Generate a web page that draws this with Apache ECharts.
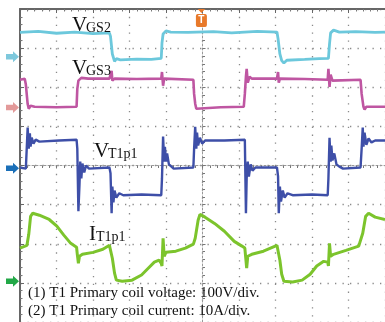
<!DOCTYPE html>
<html><head><meta charset="utf-8">
<script src="https://cdn.jsdelivr.net/npm/echarts@6/dist/echarts.min.js"></script>
<style>html,body{margin:0;padding:0;background:#fff}#c{width:385px;height:322px}</style>
</head><body><div id="c"></div>
<script>
// Time axis and amplitude axis in oscilloscope divisions
const xRange = [-5, 5];
const yRange = [-4, 4];
// Channel reference levels (arrows at left), in divisions
const refLevels = [2.78, 1.48, -0.07, -2.96];
const triggerT = -0.03;

const vgs2 = [[-5.00,3.40],[-4.5,3.43],[-4.0,3.38],[-3.5,3.41],[-3.0,3.37],[-2.55,3.39],
[-2.52,3.30],[-2.47,2.85],[-2.41,2.66],[-2.36,2.73],[-2.25,2.70],[-1.8,2.72],[-1.4,2.71],[-1.13,2.74],
[-1.11,3.13],[-1.08,3.36],[-1.00,3.44],[-0.87,3.41],[-0.4,3.40],[0.3,3.42],[0.8,3.39],[1.5,3.43],[2.04,3.41],
[2.07,3.24],[2.12,2.85],[2.17,2.68],[2.23,2.62],[2.31,2.69],[2.8,2.71],[3.2,2.73],[3.45,2.74],
[3.48,3.11],[3.51,3.39],[3.59,3.46],[3.75,3.41],[4.2,3.42],[4.73,3.40],[5.0,3.41]];

const vgs3 = [[-5.00,2.19],[-4.87,2.22],[-4.84,2.07],[-4.79,1.57],[-4.76,1.45],[-4.71,1.53],[-4.60,1.50],[-4.0,1.49],
[-3.45,1.50],[-3.43,1.96],[-3.40,2.17],[-3.32,2.24],[-3.13,2.22],[-2.55,2.22],[-2.52,2.22],[-2.49,2.42],[-2.47,2.17],
[-2.41,2.22],[-1.8,2.21],[-1.13,2.22],[-1.11,2.39],[-1.08,2.04],[-1.05,2.22],[-0.25,2.19],[-0.23,1.83],[-0.20,1.58],
[-0.17,1.45],[-0.12,1.50],[0.5,1.49],[1.13,1.50],[1.16,1.83],[1.19,2.27],[1.21,2.47],[1.24,2.12],[1.29,2.27],[1.35,2.22],
[2.04,2.22],[2.07,2.39],[2.09,2.12],[2.12,2.22],[2.8,2.21],[3.43,2.19],[3.45,2.47],[3.48,2.01],[3.51,2.32],[3.56,2.17],
[3.61,2.22],[4.33,2.19],[4.36,1.83],[4.41,1.50],[4.44,1.43],[4.49,1.50],[4.73,1.50],[5.0,1.50]];

const vt1p1 = [[-5,-0.05],[-4.84,-0.08],[-4.81,-0.05],[-4.79,0.97],[-4.76,0.43],[-4.73,0.82],[-4.71,0.48],[-4.68,0.71],
[-4.63,0.56],[-4.57,0.66],[-4.47,0.61],[-3.93,0.64],[-3.45,0.66],[-3.43,0.43],[-3.40,-1.17],[-3.37,-0.48],[-3.35,0.10],
[-3.32,-0.33],[-3.29,0.05],[-3.24,-0.18],[-3.19,0.0],[-3.11,-0.08],[-2.55,-0.05],[-2.52,-0.20],[-2.49,-1.22],[-2.47,-0.54],
[-2.44,-0.94],[-2.41,-0.64],[-2.36,-0.82],[-2.28,-0.71],[-2.17,-0.76],[-1.67,-0.74],[-1.13,-0.76],[-1.11,-0.33],[-1.08,0.74],
[-1.05,0.10],[-1.03,0.48],[-1.00,0.10],[-0.97,0.31],[-0.92,0.03],[-0.87,0.05],[-0.79,-0.08],[-0.25,-0.05],[-0.23,0.43],
[-0.20,0.99],[-0.17,0.43],[-0.15,0.84],[-0.12,0.51],[-0.07,0.71],[-0.01,0.56],[0.07,0.64],[0.60,0.64],[1.16,0.66],
[1.19,-1.22],[1.21,-0.33],[1.24,0.10],[1.27,-0.28],[1.32,0.03],[1.37,-0.13],[1.45,-0.05],[2.04,-0.05],[2.07,-0.28],
[2.09,-1.22],[2.12,-0.54],[2.15,-0.92],[2.20,-0.64],[2.25,-0.82],[2.33,-0.71],[2.47,-0.76],[3.0,-0.74],[3.43,-0.76],
[3.45,-0.33],[3.48,0.71],[3.51,0.10],[3.53,0.51],[3.56,0.13],[3.61,0.31],[3.67,0.03],[3.75,-0.03],[3.85,-0.08],
[4.33,-0.05],[4.36,0.43],[4.39,0.97],[4.41,0.48],[4.44,0.84],[4.49,0.53],[4.55,0.69],[4.63,0.59],[4.73,0.64],[5.0,0.64]];

const it1p1 = [[-5,-2.11],[-4.81,-2.04],[-4.76,-1.76],[-4.71,-1.30],[-4.65,-1.22],[-4.47,-1.27],[-4.2,-1.38],[-3.99,-1.55],
[-3.8,-1.78],[-3.61,-1.99],[-3.45,-2.09],[-3.43,-2.27],[-3.40,-2.50],[-3.37,-2.32],[-3.29,-2.27],[-3.0,-2.22],[-2.73,-2.14],
[-2.55,-2.04],[-2.52,-1.99],[-2.47,-2.37],[-2.41,-2.75],[-2.36,-2.93],[-2.2,-2.96],[-1.93,-2.93],[-1.67,-2.80],[-1.48,-2.62],
[-1.32,-2.47],[-1.19,-2.42],[-1.13,-2.50],[-1.11,-2.57],[-1.08,-1.86],[-1.05,-2.32],[-1.0,-2.22],[-0.73,-2.19],[-0.47,-2.11],
[-0.25,-2.01],[-0.2,-1.86],[-0.12,-1.40],[-0.07,-1.25],[0.07,-1.32],[0.33,-1.48],[0.6,-1.68],[0.87,-1.94],[1.08,-2.06],
[1.16,-2.11],[1.19,-2.42],[1.21,-2.62],[1.24,-2.32],[1.35,-2.27],[1.67,-2.19],[2.04,-2.04],[2.07,-2.01],[2.12,-2.42],
[2.17,-2.78],[2.23,-2.96],[2.47,-2.98],[2.73,-2.93],[2.95,-2.78],[3.13,-2.57],[3.32,-2.45],[3.43,-2.47],[3.45,-2.57],
[3.48,-1.99],[3.51,-2.32],[3.59,-2.27],[3.93,-2.17],[4.28,-2.06],[4.33,-2.04],[4.39,-1.73],[4.47,-1.30],[4.55,-1.22],
[4.73,-1.32],[5.0,-1.38]];

const traceColors = ['#6cc8dc', '#bf56a2', '#3e4fa8', '#7cc42c'];
const arrowColors = ['#7ec8dc', '#e39a9a', '#1a6fb8', '#22a847'];
const footnotes = ['(1) T1 Primary coil voltage: 100V/div.', '(2) T1 Primary coil current: 10A/div.'];

const serif = '"Liberation Serif", "DejaVu Serif", serif';
const arrowPath = 'path://M0,3 L7,3 L7,0 L13,6 L7,12 L7,9 L0,9 Z';
const trigPath = 'path://M2,0 L10,0 L6,4 Z M2,5 L10,5 Q12,5 12,7 L12,16 Q12,18 10,18 L2,18 Q0,18 0,16 L0,7 Q0,5 2,5 Z';

function mkSeries(data, i, width) {
  const s = {
    type: 'line', data: data, showSymbol: false, symbol: 'none', animation: false,
    lineStyle: {color: traceColors[i], width: width}, z: 5 + i,
    markPoint: {
      silent: true, animation: false,
      data: [{coord: [xRange[0], refLevels[i]], symbol: arrowPath, symbolSize: [13, 11],
              symbolOffset: [-7.5, 0], itemStyle: {color: arrowColors[i]}, label: {show: false}}]
    }
  };
  if (i === 0) {
    s.markPoint.data.push({coord: [triggerT, yRange[1]], symbol: trigPath, symbolSize: [11, 18],
      symbolOffset: [0, 9], itemStyle: {color: '#e8792a'},
      label: {show: true, formatter: 'T', color: '#fff', fontSize: 10, fontWeight: 'bold', position: 'inside', offset: [0, 2]}});
  }
  return s;
}

const gridLineX = {show: true, lineStyle: {color: '#8a8a8a', width: 1.3, type: [1.3, 6.55]}};
const gridLineY = {show: true, lineStyle: {color: '#8a8a8a', width: 1.3, type: [1.3, 6.2]}};

const chart = echarts.init(document.getElementById('c'), null, {renderer: 'canvas'});
chart.setOption({
  animation: false,
  backgroundColor: '#fff',
  grid: {left: 20, top: 9, right: -10, bottom: -1, containLabel: false},
  xAxis: [
    {type: 'value', min: xRange[0], max: xRange[1], interval: 1, position: 'top',
     axisLine: {show: true, onZero: false, lineStyle: {color: '#666', width: 2}},
     axisTick: {show: true, inside: true, length: 4, lineStyle: {color: '#666'}},
     minorTick: {show: true, splitNumber: 5, length: 2.5, lineStyle: {color: '#777'}},
     axisLabel: {show: false}, splitLine: gridLineX},
    {type: 'value', min: xRange[0], max: xRange[1], interval: 1, position: 'bottom',
     axisLine: {show: true, onZero: true, lineStyle: {color: '#999', width: 1, type: [2, 2]}},
     axisTick: {show: true, length: 3, lineStyle: {color: '#777'}},
     minorTick: {show: true, splitNumber: 5, length: 2.5, lineStyle: {color: '#777'}},
     axisLabel: {show: false}, splitLine: {show: false}}
  ],
  yAxis: [
    {type: 'value', min: yRange[0], max: yRange[1], interval: 1, position: 'left',
     axisLine: {show: true, onZero: false, lineStyle: {color: '#666', width: 2}},
     axisTick: {show: true, inside: true, length: 4, lineStyle: {color: '#666'}},
     minorTick: {show: true, splitNumber: 5, length: 2.5, lineStyle: {color: '#777'}},
     axisLabel: {show: false}, splitLine: gridLineY},
    {type: 'value', min: yRange[0], max: yRange[1], interval: 1, position: 'right',
     axisLine: {show: true, onZero: true, lineStyle: {color: '#999', width: 1, type: [2, 2]}},
     axisTick: {show: true, length: 3, lineStyle: {color: '#777'}},
     minorTick: {show: true, splitNumber: 5, length: 2.5, lineStyle: {color: '#777'}},
     axisLabel: {show: false}, splitLine: {show: false}}
  ],
  series: [mkSeries(vgs2, 0, 2.8), mkSeries(vgs3, 1, 2.6), mkSeries(vt1p1, 2, 2.4), mkSeries(it1p1, 3, 3)],
  graphic: [
    {type: 'text', left: 72, top: 15, z: 20, style: {text: 'V', font: '21px ' + serif, fill: '#111'}},
    {type: 'text', left: 86, top: 21, z: 20, style: {text: 'GS2', font: '14px ' + serif, fill: '#111'}},
    {type: 'text', left: 72, top: 58, z: 20, style: {text: 'V', font: '21px ' + serif, fill: '#111'}},
    {type: 'text', left: 86, top: 64, z: 20, style: {text: 'GS3', font: '14px ' + serif, fill: '#111'}},
    {type: 'text', left: 94, top: 141, z: 20, style: {text: 'V', font: '21px ' + serif, fill: '#111'}},
    {type: 'text', left: 108, top: 147, z: 20, style: {text: 'T1p1', font: '14px ' + serif, fill: '#111'}},
    {type: 'text', left: 89, top: 224, z: 20, style: {text: 'I', font: '21px ' + serif, fill: '#111'}},
    {type: 'text', left: 96, top: 230, z: 20, style: {text: 'T1p1', font: '14px ' + serif, fill: '#111'}},
    {type: 'text', left: 28, top: 286, z: 20, style: {text: footnotes[0], font: '15px ' + serif, fill: '#111'}},
    {type: 'text', left: 28, top: 304, z: 20, style: {text: footnotes[1], font: '15px ' + serif, fill: '#111'}}
  ]
});
</script></body></html>
